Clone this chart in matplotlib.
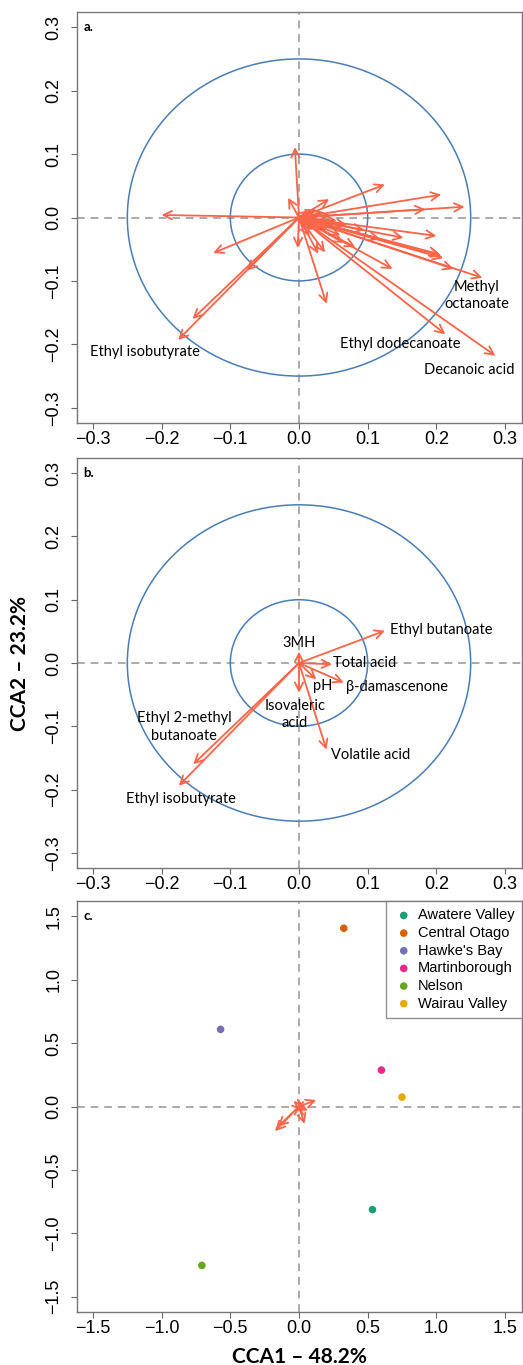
import matplotlib
matplotlib.use("Agg")
import matplotlib.pyplot as plt
import numpy as np
from matplotlib.patches import Ellipse

# Panel a: all compound vectors (CCA1, CCA2)
a_x = [-0.006, -0.200, -0.016, -0.002, -0.125, -0.176, -0.155, -0.076, 0.040,
       0.028, 0.038, 0.125, 0.207, 0.241, 0.184, 0.044, 0.152, 0.200, 0.207,
       0.210, 0.205, 0.225, 0.267, 0.213, 0.286, 0.136, 0.082, 0.118, 0.060,
       0.013, 0.025, 0.035, 0.045, 0.030, 0.050, 0.020, 0.055, 0.040, 0.015,
       0.070, 0.065, 0.095]
a_y = [0.111, 0.004, 0.031, -0.048, -0.056, -0.193, -0.160, -0.084, -0.136,
       -0.057, -0.055, 0.052, 0.036, 0.017, 0.013, 0.029, -0.032, -0.029, -0.060,
       -0.064, -0.058, -0.081, -0.095, -0.184, -0.218, -0.081, -0.047, -0.034, -0.028,
       0.011, 0.013, 0.008, 0.004, -0.010, -0.015, -0.020, -0.005, -0.020, -0.030,
       -0.012, -0.040, -0.020]
a_labels = ["Methyl\noctanoate", "Ethyl dodecanoate", "Decanoic acid", "Ethyl isobutyrate"]
a_lab_x = [0.259, 0.148, 0.248, -0.225]
a_lab_y = [-0.123, -0.200, -0.241, -0.212]

# Panel b: selected compounds / parameters
b_names = ["Ethyl butanoate", "3MH", "Total acid", "\u03b2-damascenone", "pH",
           "Isovaleric\nacid", "Volatile acid", "Ethyl 2-methyl\nbutanoate", "Ethyl isobutyrate"]
b_x = [0.125, 0.000, 0.048, 0.065, 0.025, 0.000, 0.040, -0.154, -0.175]
b_y = [0.051, 0.018, -0.002, -0.031, -0.026, -0.047, -0.137, -0.160, -0.194]
b_lab_x = [0.132, 0.000, 0.049, 0.069, 0.034, -0.006, 0.046, -0.167, -0.172]
b_lab_y = [0.052, 0.032, 0.000, -0.038, -0.036, -0.081, -0.145, -0.101, -0.215]
b_lab_ha = ["left", "center", "left", "left", "center", "center", "left", "center", "center"]

# Panel c: region scores
regions = ["Awatere Valley", "Central Otago", "Hawke's Bay", "Martinborough", "Nelson", "Wairau Valley"]
c_x = [0.535, 0.326, -0.571, 0.600, -0.707, 0.750]
c_y = [-0.813, 1.405, 0.608, 0.287, -1.253, 0.074]
region_colors = ["#1B9E77", "#D95F02", "#7570B3", "#E7298A", "#66A61E", "#E6AB02"]

arrow_col = "#FA6448"
circle_col = "#4A7DB5"
label_font = ["Lato", "DejaVu Sans"]

W, H = 523, 1365
fig = plt.figure(figsize=(W / 100, H / 100), dpi=100)


def make_axes(top_px, bottom_px):
    left, right = 76.5, 521.5
    return fig.add_axes([left / W, 1 - bottom_px / H, (right - left) / W, (bottom_px - top_px) / H])


def style_axes(ax, lim, ticks):
    ax.set_xlim(-lim, lim)
    ax.set_ylim(-lim, lim)
    ax.set_xticks(ticks)
    ax.set_yticks(ticks)
    fmt = "%.1f"
    ax.set_xticklabels([(fmt % t).replace("-", "\u2212") for t in ticks])
    ax.set_yticklabels([(fmt % t).replace("-", "\u2212") for t in ticks], rotation=90, va="center")
    ax.tick_params(labelsize=13, length=4, color="#666666", width=0.8)
    ax.tick_params(axis="x", pad=2)
    ax.tick_params(axis="y", pad=6)
    for lab in ax.get_xticklabels() + ax.get_yticklabels():
        lab.set_family("Liberation Sans")
    for s in ax.spines.values():
        s.set_color("#777777")
        s.set_linewidth(1.0)
    ax.axhline(0, color="#AAAAAA", lw=1.4, ls=(0, (4, 3)), zorder=1)
    ax.axvline(0, color="#AAAAAA", lw=1.4, ls=(0, (4, 3)), zorder=1)


def draw_arrows(ax, xs, ys):
    for x, y in zip(xs, ys):
        ax.annotate("", xy=(x, y), xytext=(0, 0),
                    arrowprops=dict(arrowstyle="->,head_length=0.6,head_width=0.3",
                                    color=arrow_col, lw=1.3, shrinkA=0, shrinkB=0),
                    zorder=3)


def draw_circles(ax):
    for r in (0.1, 0.25):
        ax.add_patch(Ellipse((0, 0), 2 * r, 2 * r, fill=False, ec=circle_col, lw=1.1, zorder=2))


ticks_ab = [-0.3, -0.2, -0.1, 0.0, 0.1, 0.2, 0.3]

# a.
ax1 = make_axes(12, 423)
style_axes(ax1, 0.324, ticks_ab)
draw_circles(ax1)
draw_arrows(ax1, a_x, a_y)
for t, x, y in zip(a_labels, a_lab_x, a_lab_y):
    ax1.text(x, y, t, ha="center", va="center", fontsize=10.5, family=label_font,
             linespacing=1.3, zorder=4)
ax1.text(0.015, 0.963, "a.", transform=ax1.transAxes, fontsize=9.5, fontweight="bold",
         family=label_font, va="center")

# b.
ax2 = make_axes(458, 868)
style_axes(ax2, 0.324, ticks_ab)
draw_circles(ax2)
draw_arrows(ax2, b_x, b_y)
for t, x, y, ha in zip(b_names, b_lab_x, b_lab_y, b_lab_ha):
    ax2.text(x, y, t, ha=ha, va="center", fontsize=10.5, family=label_font,
             linespacing=1.3, zorder=4)
ax2.text(0.015, 0.963, "b.", transform=ax2.transAxes, fontsize=9.5, fontweight="bold",
         family=label_font, va="center")

# c.
ax3 = make_axes(901, 1312)
style_axes(ax3, 1.62, [-1.5, -1.0, -0.5, 0.0, 0.5, 1.0, 1.5])
draw_arrows(ax3, b_x, b_y)
for name, x, y, c in zip(regions, c_x, c_y, region_colors):
    ax3.scatter(x, y, s=30, color=c, label=name, zorder=4, edgecolors="none")
ax3.text(0.015, 0.963, "c.", transform=ax3.transAxes, fontsize=9.5, fontweight="bold",
         family=label_font, va="center")
leg = ax3.legend(loc="upper right", borderaxespad=0, fancybox=False, frameon=True,
                 prop={"family": "Liberation Sans", "size": 10.5}, handletextpad=0.2,
                 labelspacing=0.25, borderpad=0.5, handlelength=1.5)
leg.get_frame().set_edgecolor("#777777")
leg.get_frame().set_linewidth(1.0)

fig.text(299 / W, 1 - 1357 / H, "CCA1 \u2013 48.2%", ha="center", va="center",
         fontsize=15, fontweight="bold", family=label_font)
fig.text(20 / W, 1 - 663 / H, "CCA2 \u2013 23.2%", ha="center", va="center", rotation=90,
         fontsize=15, fontweight="bold", family=label_font)

fig.savefig("out.png", dpi=100)
